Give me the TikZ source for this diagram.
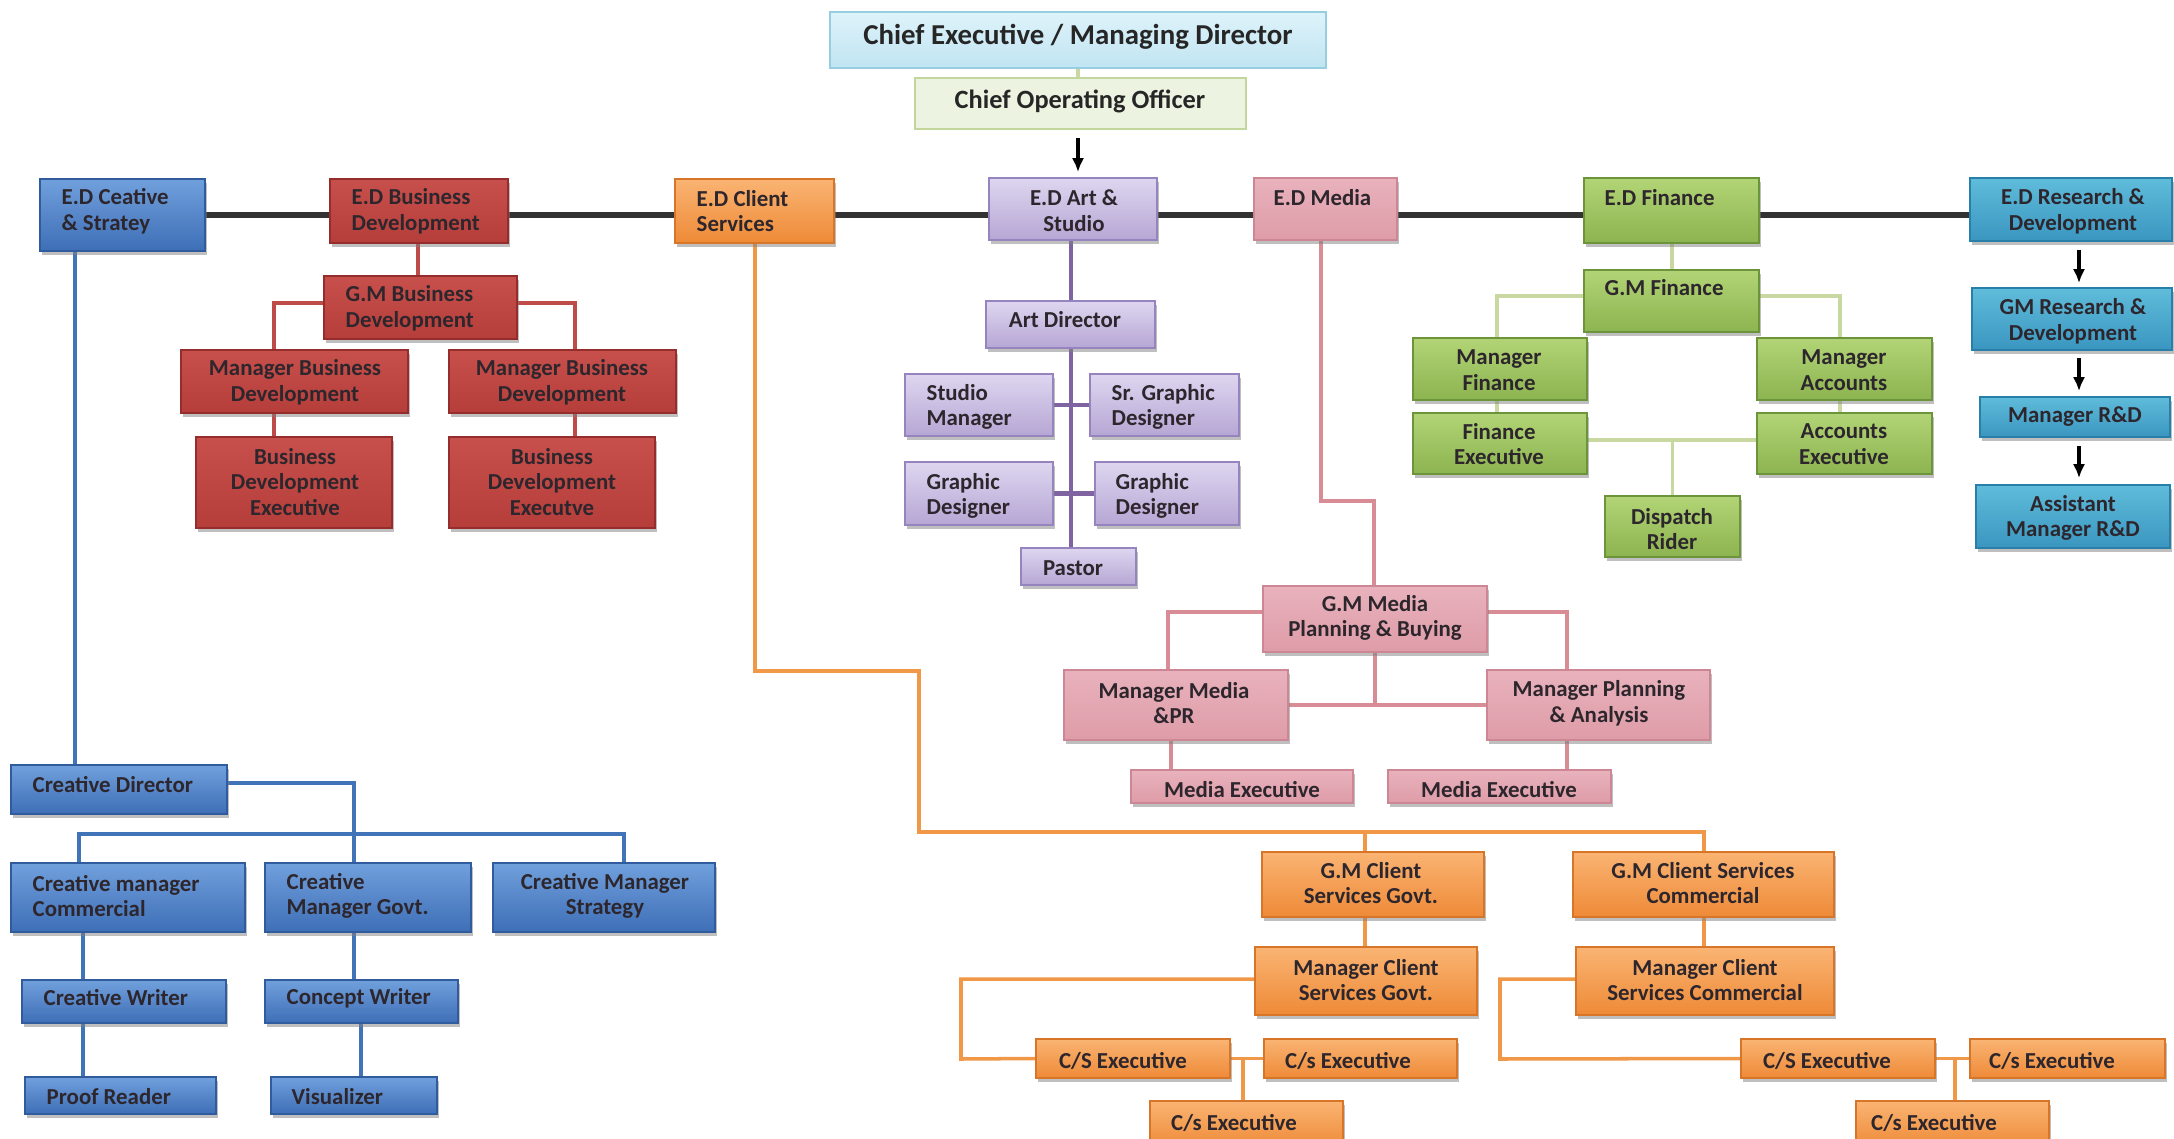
\documentclass[tikz,border=0pt]{standalone}
\usepackage{fontspec}
\setmainfont{Carlito}
\usetikzlibrary{fit,backgrounds,shadows,arrows.meta,calc}
\definecolor{txtc}{RGB}{45,38,45}
\definecolor{bluT}{RGB}{112,160,220}\definecolor{bluB}{RGB}{62,110,182}\definecolor{bluD}{RGB}{48,92,158}
\definecolor{redT}{RGB}{200,80,76}\definecolor{redM}{RGB}{218,112,108}\definecolor{redB}{RGB}{182,62,58}\definecolor{redD}{RGB}{150,45,45}
\definecolor{orT}{RGB}{250,180,115}\definecolor{orM}{RGB}{246,160,88}\definecolor{orB}{RGB}{238,138,55}\definecolor{orD}{RGB}{215,118,40}
\definecolor{puT}{RGB}{222,214,240}\definecolor{puB}{RGB}{182,166,212}\definecolor{puD}{RGB}{150,132,190}
\definecolor{piT}{RGB}{232,178,188}\definecolor{piM}{RGB}{246,222,228}\definecolor{piB}{RGB}{222,156,168}\definecolor{piD}{RGB}{205,135,148}
\definecolor{grT}{RGB}{178,212,118}\definecolor{grB}{RGB}{140,180,80}\definecolor{grD}{RGB}{108,148,58}
\definecolor{teT}{RGB}{95,188,218}\definecolor{teB}{RGB}{58,150,192}\definecolor{teD}{RGB}{40,128,170}
\definecolor{ceoT}{RGB}{222,243,250}\definecolor{ceoB}{RGB}{192,228,242}\definecolor{ceoD}{RGB}{150,205,225}
\definecolor{cooF}{RGB}{236,243,224}\definecolor{cooD}{RGB}{195,214,155}
\definecolor{blL}{RGB}{65,115,185}\definecolor{rdL}{RGB}{190,75,72}\definecolor{orL}{RGB}{240,152,72}
\definecolor{puL}{RGB}{128,100,162}\definecolor{piL}{RGB}{215,140,150}\definecolor{grL}{RGB}{200,216,160}
\tikzset{
  bx/.style={inner sep=0pt, line width=0.5pt, drop shadow={shadow xshift=0.6pt, shadow yshift=-1pt, opacity=0.5}},
  bluebx/.style={bx, draw=bluD, top color=bluT, bottom color=bluB},
  redbx/.style={bx, draw=redD, top color=redT, middle color=redM, bottom color=redB},
  orbx/.style={bx, draw=orD, top color=orT, middle color=orM, bottom color=orB},
  pubx/.style={bx, draw=puD, top color=puT, bottom color=puB},
  pibx/.style={bx, draw=piD, top color=piT, middle color=piM, bottom color=piB},
  grbx/.style={bx, draw=grD, top color=grT, bottom color=grB},
  tebx/.style={bx, draw=teD, top color=teT, bottom color=teB},
  ceobx/.style={inner sep=0pt, line width=0.8pt, draw=ceoD, top color=ceoT, bottom color=ceoB},
  coobx/.style={inner sep=0pt, line width=0.8pt, draw=cooD, fill=cooF},
  txt/.style={inner sep=0pt, font=\fontsize{6.5}{7.3}\selectfont\bfseries, text=txtc},
  txl/.style={txt, anchor=west, align=left},
  txc/.style={txt, align=center},
  lnb/.style={line width=1pt, draw=blL},
  lnr/.style={line width=1pt, draw=rdL},
  lno/.style={line width=1pt, draw=orL},
  lnp/.style={line width=1.2pt, draw=puL},
  lnk/.style={line width=1pt, draw=piL},
  lng/.style={line width=1pt, draw=grL},
  lnblack/.style={line width=1.5pt, draw=black!80},
  arr/.style={line width=0.9pt, draw=black, -{Latex[length=4pt,width=3.5pt]}},
}
\newcommand\orgbox[4]{\node[#2, fit={(#3) (#4)}] (#1) {};}
\begin{document}
\begin{tikzpicture}[x=0.01cm,y=-0.01cm]
\useasboundingbox (0,0) rectangle (2174,1139);
% top
\orgbox{ceo}{ceobx}{830,12}{1326,68}
\node[txc, font=\fontsize{8.2}{9}\selectfont\bfseries, text=black!85] (ceoT) at (1078,37) {Chief Executive / Managing Director};
\orgbox{coo}{coobx}{915,78}{1246,129}
\node[txc, font=\fontsize{7.5}{8}\selectfont\bfseries, text=black!85] (cooT) at (1080,101) {Chief Operating Officer};
% ED row
\orgbox{edcs}{bluebx}{40,179}{205,251}
\node[txl] (edcsT) at (61,211) {E.D Ceative\\\& Stratey};
\orgbox{edbd}{redbx}{330,179}{508,243}
\node[txl] (edbdT) at (351,211) {E.D Business\\Development};
\orgbox{edcl}{orbx}{675,179}{834,243}
\node[txl] (edclT) at (696,211) {E.D Client\\Services};
\orgbox{edart}{pubx}{989,178}{1157,240}
\node[txc] (edartT) at (1074,211) {E.D Art \&\\Studio};
\orgbox{edm}{pibx}{1254,178}{1397,240}
\node[txl] (edmT) at (1273,198) {E.D Media};
\orgbox{edf}{grbx}{1584,178}{1759,243}
\node[txl] (edfT) at (1604,198) {E.D Finance};
\orgbox{edrd}{tebx}{1970,178}{2172,241}
\node[txc] (edrdT) at (2073,211) {E.D Research \&\\Development};
% business development
\orgbox{gmbd}{redbx}{324,276}{517,339}
\node[txl] (gmbdT) at (345,308) {G.M Business\\Development};
\orgbox{mbd1}{redbx}{181,350}{408,413}
\node[txc] (mbd1T) at (295,382) {Manager Business\\Development};
\orgbox{mbd2}{redbx}{449,350}{676,413}
\node[txc] (mbd2T) at (562,382) {Manager Business\\Development};
\orgbox{bde1}{redbx}{196,437}{392,528}
\node[txc] (bde1T) at (295,482) {Business\\Development\\Executive};
\orgbox{bde2}{redbx}{449,437}{655,528}
\node[txc] (bde2T) at (552,482) {Business\\Development\\Executve};
% art studio
\orgbox{ad}{pubx}{986,301}{1155,348}
\node[txc] (adT) at (1065,320) {Art Director};
\orgbox{sm}{pubx}{905,374}{1053,436}
\node[txl] (smT) at (926,407) {Studio\\Manager};
\orgbox{sgd}{pubx}{1090,374}{1239,436}
\node[txl] (sgdT) at (1111,407) {Sr. Graphic\\Designer};
\orgbox{gd1}{pubx}{905,462}{1053,525}
\node[txl] (gd1T) at (926,496) {Graphic\\Designer};
\orgbox{gd2}{pubx}{1095,462}{1239,525}
\node[txl] (gd2T) at (1115,496) {Graphic\\Designer};
\orgbox{pastor}{pubx}{1021,548}{1136,585}
\node[txc] (pastorT) at (1073,568) {Pastor};
% finance
\orgbox{gmf}{grbx}{1584,270}{1759,332}
\node[txl] (gmfT) at (1604,288) {G.M Finance};
\orgbox{mf}{grbx}{1413,338}{1587,400}
\node[txc] (mfT) at (1499,370) {Manager\\Finance};
\orgbox{ma}{grbx}{1757,338}{1932,400}
\node[txc] (maT) at (1844,370) {Manager\\Accounts};
\orgbox{fe}{grbx}{1413,413}{1587,474}
\node[txc] (feT) at (1499,444) {Finance\\Executive};
\orgbox{ae}{grbx}{1757,413}{1932,474}
\node[txc] (aeT) at (1844,444) {Accounts\\Executive};
\orgbox{dr}{grbx}{1605,496}{1740,557}
\node[txc] (drT) at (1672,529) {Dispatch\\Rider};
% research
\orgbox{gmrd}{tebx}{1972,288}{2172,350}
\node[txc] (gmrdT) at (2073,321) {GM Research \&\\Development};
\orgbox{mrd}{tebx}{1980,397}{2170,437}
\node[txc] (mrdT) at (2075,417) {Manager R\&D};
\orgbox{amrd}{tebx}{1976,485}{2170,548}
\node[txc] (amrdT) at (2073,518) {Assistant\\Manager R\&D};
% media
\orgbox{gmm}{pibx}{1263,586}{1487,652}
\node[txc] (gmmT) at (1375,618) {G.M Media\\Planning \& Buying};
\orgbox{mmp}{pibx}{1064,670}{1288,740}
\node[txc] (mmpT) at (1174,703) {Manager Media\\\&PR};
\orgbox{mpa}{pibx}{1487,670}{1710,740}
\node[txc] (mpaT) at (1599,703) {Manager Planning\\\& Analysis};
\orgbox{me1}{pibx}{1131,770}{1353,803}
\node[txc] (me1T) at (1242,790) {Media Executive};
\orgbox{me2}{pibx}{1388,770}{1611,803}
\node[txc] (me2T) at (1499,790) {Media Executive};
% creative
\orgbox{cd}{bluebx}{11,765}{227,814}
\node[txl] (cdT) at (32,785) {Creative Director};
\orgbox{cmc}{bluebx}{11,863}{245,932}
\node[txl] (cmcT) at (32,896) {Creative manager\\Commercial};
\orgbox{cmg}{bluebx}{265,863}{471,932}
\node[txl] (cmgT) at (286,896) {Creative\\Manager Govt.};
\orgbox{cms}{bluebx}{493,863}{715,932}
\node[txc] (cmsT) at (605,896) {Creative Manager\\Strategy};
\orgbox{cw}{bluebx}{22,980}{226,1023}
\node[txl] (cwT) at (43,998) {Creative Writer};
\orgbox{cpw}{bluebx}{265,980}{458,1023}
\node[txl] (cpwT) at (286,998) {Concept Writer};
\orgbox{pr}{bluebx}{25,1077}{216,1114}
\node[txl] (prT) at (46,1097) {Proof Reader};
\orgbox{vis}{bluebx}{271,1077}{437,1114}
\node[txl] (visT) at (291,1097) {Visualizer};
% client services
\orgbox{gmcg}{orbx}{1262,852}{1484,917}
\node[txc] (gmcgT) at (1371,883) {G.M Client\\Services Govt.};
\orgbox{gmcc}{orbx}{1573,852}{1834,917}
\node[txc] (gmccT) at (1703,883) {G.M Client Services\\Commercial};
\orgbox{mcg}{orbx}{1255,947}{1477,1015}
\node[txc] (mcgT) at (1366,980) {Manager Client\\Services Govt.};
\orgbox{mcc}{orbx}{1576,947}{1834,1015}
\node[txc] (mccT) at (1705,980) {Manager Client\\Services Commercial};
\orgbox{cse1}{orbx}{1036,1039}{1230,1078}
\node[txc] (cse1T) at (1123,1061) {C/S Executive};
\orgbox{cse2}{orbx}{1264,1039}{1457,1078}
\node[txc] (cse2T) at (1348,1061) {C/s Executive};
\orgbox{cse3}{orbx}{1150,1101}{1343,1148}
\node[txc] (cse3T) at (1234,1123) {C/s Executive};
\orgbox{cse4}{orbx}{1741,1039}{1935,1078}
\node[txc] (cse4T) at (1827,1061) {C/S Executive};
\orgbox{cse5}{orbx}{1970,1039}{2165,1078}
\node[txc] (cse5T) at (2052,1061) {C/s Executive};
\orgbox{cse6}{orbx}{1856,1101}{2049,1148}
\node[txc] (cse6T) at (1934,1123) {C/s Executive};
% connectors
\begin{pgfonlayer}{background}
\fill[white] (0,0) rectangle (2174,1139);
\draw[lnblack] (edcs.east) -- (edrd.west |- edcs.east);
\draw[lng] (ceo.south) -- (ceo.south |- coo.north);
% creative
\draw[lnb] (edcs.south -| 75,0) -- (cd.north -| 75,0);
\draw[lnb] (cd.east |- 0,783) -| (cmg.north -| 354,0);
\coordinate (cjl) at (79,834);
\draw[lnb] (cmc.north -| 79,0) -- (cjl) -| (cms.north -| 624,0);
\draw[lnb] (cmc.south -| 83,0) -- (cw.north -| 83,0);
\draw[lnb] (cw.south -| 83,0) -- (pr.north -| 83,0);
\draw[lnb] (cmg.south -| 354,0) -- (cpw.north -| 354,0);
\draw[lnb] (cpw.south -| 361,0) -- (vis.north -| 361,0);
% business
\draw[lnr] (edbd.south -| 418,0) -- (gmbd.north -| 418,0);
\draw[lnr] (gmbd.west |- 0,303) -| (mbd1.north -| 274,0);
\draw[lnr] (gmbd.east |- 0,303) -| (mbd2.north -| 575,0);
\draw[lnr] (mbd1.south -| 274,0) -- (bde1.north -| 274,0);
\draw[lnr] (mbd2.south -| 575,0) -- (bde2.north -| 575,0);
% client services
\coordinate (ojoin) at (1365,832);
\draw[lno] (edcl.south -| 755,0) |- (919,671) -- (919,832) -| (gmcc.north -| 1704,0);
\draw[lno] (ojoin) -- (gmcg.north -| 1365,0);
\draw[lno] (gmcg.south -| 1365,0) -- (mcg.north -| 1365,0);
\draw[lno] (gmcc.south -| 1704,0) -- (mcc.north -| 1704,0);
\draw[lno] (mcg.west |- 0,979) -| (961,1059) -- (cse1.west);
\draw[lno] (cse1.east) -- (cse2.west);
\coordinate (oj1) at (1243,1059);
\draw[lno] (oj1) -- (cse3.north -| oj1);
\draw[lno] (mcc.west |- 0,979) -| (1500,1059) -- (cse4.west);
\draw[lno] (cse4.east) -- (cse5.west);
\coordinate (oj2) at (1955,1059);
\draw[lno] (oj2) -- (cse6.north -| oj2);
% art
\draw[lnp] (edart.south -| 1071,0) -- (ad.north -| 1071,0);
\draw[lnp] (ad.south -| 1071,0) -- (pastor.north -| 1071,0);
\draw[lnp] (sm.east) -- (sgd.west);
\draw[lnp] (gd1.east) -- (gd2.west);
% media
\draw[lnk] (edm.south -| 1321,0) |- (1374,501) -- (gmm.north -| 1374,0);
\draw[lnk] (gmm.west |- 0,612) -| (mmp.north -| 1168,0);
\draw[lnk] (gmm.east |- 0,612) -| (mpa.north -| 1567,0);
\draw[lnk] (gmm.south) -- (gmm.south |- mmp.east);
\draw[lnk] (mmp.east) -- (mpa.west);
\draw[lnk] (mmp.south -| 1171,0) -- (me1.north -| 1171,0);
\draw[lnk] (mpa.south -| 1567,0) -- (me2.north -| 1567,0);
% finance
\draw[lng] (edf.south -| 1672,0) -- (gmf.north -| 1672,0);
\draw[lng] (gmf.west |- 0,296) -| (mf.north -| 1497,0);
\draw[lng] (gmf.east |- 0,296) -| (ma.north -| 1840,0);
\draw[lng] (mf.south -| 1497,0) -- (fe.north -| 1497,0);
\draw[lng] (ma.south -| 1840,0) -- (ae.north -| 1840,0);
\draw[lng] (fe.east |- 0,440) -- (ae.west |- 0,440);
\draw[lng] (dr.north |- 0,440) -- (dr.north);
\end{pgfonlayer}
% arrows
\draw[arr] ($(coo.south -| 1078,0)+(0,8)$) -- ($(edart.north -| 1078,0)+(0,-5)$);
\draw[arr] ($(edrd.south -| 2079,0)+(0,8)$) -- ($(gmrd.north -| 2079,0)+(0,-4)$);
\draw[arr] ($(gmrd.south -| 2079,0)+(0,7)$) -- ($(mrd.north -| 2079,0)+(0,-5)$);
\draw[arr] ($(mrd.south -| 2079,0)+(0,8)$) -- ($(amrd.north -| 2079,0)+(0,-6)$);
\end{tikzpicture}
\end{document}
